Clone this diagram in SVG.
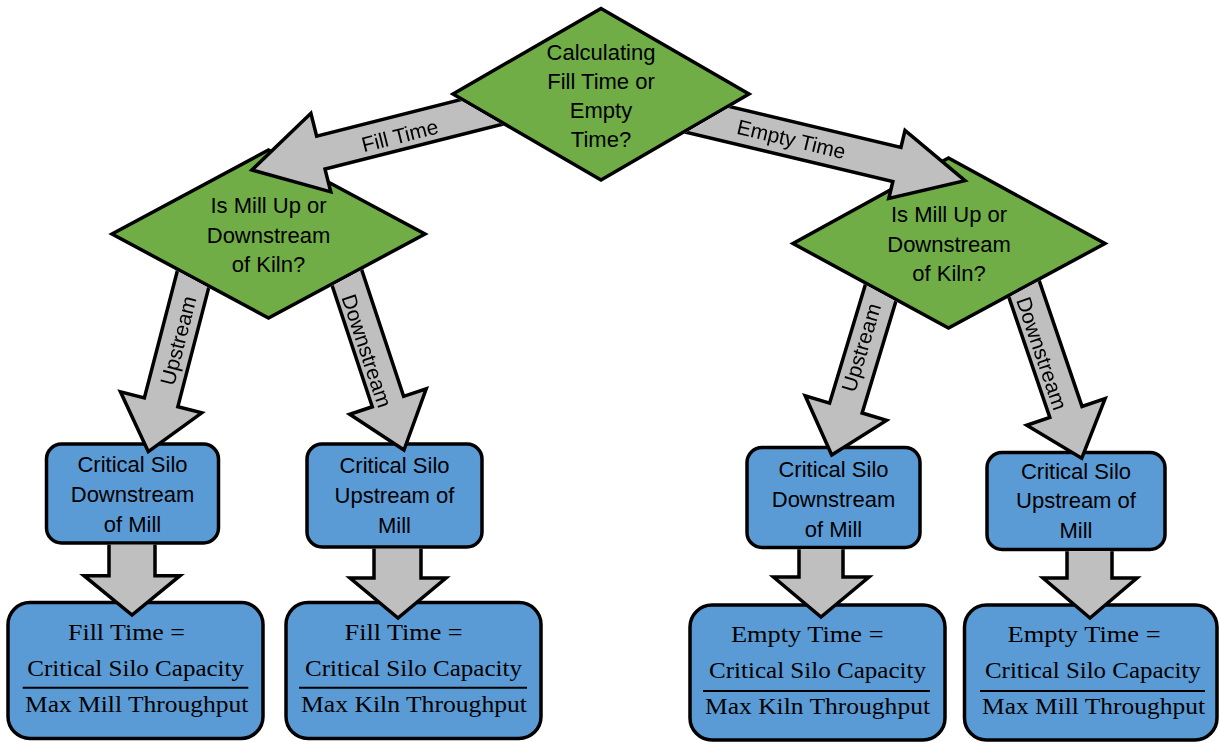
<svg xmlns="http://www.w3.org/2000/svg" width="1219" height="742" viewBox="0 0 1219 742">
<style>
.dia{fill:#70AD47;stroke:#000;stroke-width:3.5;stroke-linejoin:miter}
.box{fill:#5B9BD5;stroke:#000;stroke-width:3.5}
.arr{fill:#BFBFBF;stroke:#000;stroke-width:3.5;stroke-linejoin:miter}
.t{font-family:"Liberation Sans",Arial,sans-serif;font-size:22px;fill:#000;text-anchor:middle}
.lbl{font-family:"Liberation Sans",Arial,sans-serif;font-size:21px;fill:#000;text-anchor:middle}
.f{font-family:"Liberation Serif","Times New Roman",serif;font-size:23px;fill:#000}
.fl{stroke:#000;stroke-width:2}
.mk{fill:#000;stroke:#000;stroke-width:3.5}
</style>
<defs>
<mask id="mTop" maskUnits="userSpaceOnUse" x="0" y="0" width="1219" height="742">
<rect x="0" y="0" width="1219" height="742" fill="#fff"/>
<polygon class="mk" points="601,8.5 749,94 601,180 453,94"/>
</mask>
<mask id="mDia" maskUnits="userSpaceOnUse" x="0" y="0" width="1219" height="742">
<rect x="0" y="0" width="1219" height="742" fill="#fff"/>
<polygon class="mk" points="268.5,150 425,234 268.5,318 112,234"/>
<polygon class="mk" points="948.5,158 1105,243.5 948.5,328 793,243.5"/>
</mask>
<mask id="mBox" maskUnits="userSpaceOnUse" x="0" y="0" width="1219" height="742">
<rect x="0" y="0" width="1219" height="742" fill="#fff"/>
<rect class="mk" x="46.5" y="444" width="172" height="99" rx="15"/>
<rect class="mk" x="307" y="444" width="175" height="103" rx="15"/>
<rect class="mk" x="747" y="447.5" width="173" height="100" rx="15"/>
<rect class="mk" x="987" y="452.5" width="178" height="97" rx="15"/>
</mask>
</defs>

<g id="formula-fill-mill">
<rect class="box" x="8" y="602.5" width="255" height="136" rx="22"/>
<text class="f" x="68" y="640" textLength="117" lengthAdjust="spacingAndGlyphs">Fill Time =</text>
<text class="f" x="27.3" y="676" textLength="216.7" lengthAdjust="spacingAndGlyphs">Critical Silo Capacity</text>
<line class="fl" x1="22.7" y1="687.7" x2="248.3" y2="687.7"/>
<text class="f" x="25" y="711.5" textLength="223.3" lengthAdjust="spacingAndGlyphs">Max Mill Throughput</text>
</g>
<g id="formula-fill-kiln">
<rect class="box" x="286" y="602.5" width="255" height="136" rx="22"/>
<text class="f" x="344.6" y="640" textLength="118" lengthAdjust="spacingAndGlyphs">Fill Time =</text>
<text class="f" x="305" y="676" textLength="217" lengthAdjust="spacingAndGlyphs">Critical Silo Capacity</text>
<line class="fl" x1="299" y1="687.7" x2="527" y2="687.7"/>
<text class="f" x="301" y="711.5" textLength="226" lengthAdjust="spacingAndGlyphs">Max Kiln Throughput</text>
</g>
<g id="formula-empty-kiln">
<rect class="box" x="690" y="605" width="255" height="135" rx="22"/>
<text class="f" x="731" y="642.3" textLength="152.5" lengthAdjust="spacingAndGlyphs">Empty Time =</text>
<text class="f" x="709" y="678.3" textLength="217" lengthAdjust="spacingAndGlyphs">Critical Silo Capacity</text>
<line class="fl" x1="703" y1="691" x2="930" y2="691"/>
<text class="f" x="705" y="714" textLength="225" lengthAdjust="spacingAndGlyphs">Max Kiln Throughput</text>
</g>
<g id="formula-empty-mill">
<rect class="box" x="964.5" y="605" width="252.5" height="135" rx="22"/>
<text class="f" x="1007.6" y="642.3" textLength="153" lengthAdjust="spacingAndGlyphs">Empty Time =</text>
<text class="f" x="985" y="678.3" textLength="215.8" lengthAdjust="spacingAndGlyphs">Critical Silo Capacity</text>
<line class="fl" x1="980" y1="691" x2="1205" y2="691"/>
<text class="f" x="982" y="714" textLength="223" lengthAdjust="spacingAndGlyphs">Max Mill Throughput</text>
</g>

<g id="box-fill-down">
<rect class="box" x="46.5" y="444" width="172" height="99" rx="15"/>
<text class="t" x="132.5" y="471.7">Critical Silo</text>
<text class="t" x="132.5" y="501.7">Downstream</text>
<text class="t" x="132.5" y="531.7">of Mill</text>
</g>
<g id="box-fill-up">
<rect class="box" x="307" y="444" width="175" height="103" rx="15"/>
<text class="t" x="394.5" y="473">Critical Silo</text>
<text class="t" x="394.5" y="503">Upstream of</text>
<text class="t" x="394.5" y="533">Mill</text>
</g>
<g id="box-empty-down">
<rect class="box" x="747" y="447.5" width="173" height="100" rx="15"/>
<text class="t" x="833.5" y="476.7">Critical Silo</text>
<text class="t" x="833.5" y="506.7">Downstream</text>
<text class="t" x="833.5" y="536.7">of Mill</text>
</g>
<g id="box-empty-up">
<rect class="box" x="987" y="452.5" width="178" height="97" rx="15"/>
<text class="t" x="1076" y="479">Critical Silo</text>
<text class="t" x="1076" y="508.3">Upstream of</text>
<text class="t" x="1076" y="538.3">Mill</text>
</g>

<g id="dia-fill">
<polygon class="dia" points="268.5,150 425,234 268.5,318 112,234"/>
<text class="t" x="268.5" y="213">Is Mill Up or</text>
<text class="t" x="268.5" y="243">Downstream</text>
<text class="t" x="268.5" y="272">of Kiln?</text>
</g>
<g id="dia-empty">
<polygon class="dia" points="948.5,158 1105,243.5 948.5,328 793,243.5"/>
<text class="t" x="949" y="222">Is Mill Up or</text>
<text class="t" x="949" y="252">Downstream</text>
<text class="t" x="949" y="281">of Kiln?</text>
</g>

<g id="dia-top">
<polygon class="dia" points="601,8.5 749,94 601,180 453,94"/>
<text class="t" x="601" y="59.5">Calculating</text>
<text class="t" x="601" y="88.5">Fill Time or</text>
<text class="t" x="601" y="118">Empty</text>
<text class="t" x="601" y="147">Time?</text>
</g>

<g id="connectors">
<g mask="url(#mTop)">
<polygon class="arr" transform="translate(252,170) rotate(165.8)" points="0,0 -71,-40.5 -71,-17 -300,-17 -300,17 -71,17 -71,40.5"/>
<text class="lbl" transform="translate(400,136) rotate(-14.2)" x="0" y="7">Fill Time</text>
<polygon class="arr" transform="translate(965,180.7) rotate(13.4)" points="0,0 -70,-35 -70,-17.5 -300,-17.5 -300,17.5 -70,17.5 -70,35"/>
<text class="lbl" transform="translate(791,141) rotate(13.4)" x="0" y="5.5">Empty Time</text>
</g>
<g mask="url(#mDia)">
<polygon class="arr" transform="translate(148.3,451.7) rotate(104.55)" points="0,0 -51,-42 -51,-17.3 -220,-17.3 -220,17.3 -51,17.3 -51,42"/>
<text class="lbl" transform="translate(180,341) rotate(-75.45)" x="0" y="5.5">Upstream</text>
<polygon class="arr" transform="translate(404,450) rotate(71.67)" points="0,0 -51,-40.3 -51,-16.5 -220,-16.5 -220,16.5 -51,16.5 -51,40.3"/>
<text class="lbl" transform="translate(366.5,351) rotate(71.67)" x="0" y="7">Downstream</text>
<polygon class="arr" transform="translate(831.7,455) rotate(106.8)" points="0,0 -49,-42.5 -49,-17 -220,-17 -220,17 -49,17 -49,42.5"/>
<text class="lbl" transform="translate(863,348) rotate(-73.2)" x="0" y="5.5">Upstream</text>
<polygon class="arr" transform="translate(1081.7,458.3) rotate(71.2)" points="0,0 -49,-41.4 -49,-17 -220,-17 -220,17 -49,17 -49,41.4"/>
<text class="lbl" transform="translate(1041.5,353.5) rotate(71.2)" x="0" y="7">Downstream</text>
</g>
<g mask="url(#mBox)">
<polygon class="arr" points="109,530 109,575.7 84,575.7 132,615 180,575.7 155,575.7 155,530"/>
<polygon class="arr" points="374,535 374,578 350,578 398,618 446,578 421,578 421,535"/>
<polygon class="arr" points="799,535 799,577 773.5,577 821,617 869,577 843,577 843,535"/>
<polygon class="arr" points="1067,535 1067,578 1043,578 1090,618 1137,578 1112,578 1112,535"/>
</g>
</g>
</svg>
